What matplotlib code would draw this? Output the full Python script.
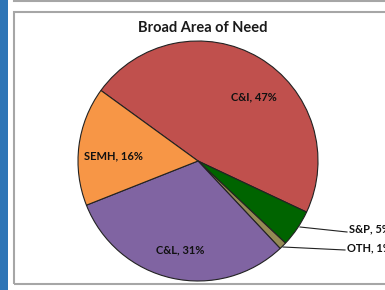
import matplotlib
matplotlib.use("Agg")
import matplotlib.pyplot as plt
import numpy as np
from matplotlib.patches import Rectangle
from matplotlib.lines import Line2D

categories = ["C&I", "S&P", "OTH", "C&L", "SEMH"]
values = [47, 5, 1, 31, 16]
colors = ["#C0504D", "#006400", "#948A54", "#8064A2", "#F79646"]
title = "Broad Area of Need"

plt.rcParams["font.family"] = ["Lato", "DejaVu Sans"]

W, H = 385, 290
fig = plt.figure(figsize=(W / 100, H / 100), dpi=100)
fig.patch.set_facecolor("white")

def fx(x):
    return x / W

def fy(y):
    return 1 - y / H

# decorations: blue side bar and grey frame
fig.patches.append(Rectangle((0, 0), fx(8), 1, transform=fig.transFigure,
                             facecolor="#2E75B6", edgecolor="none", zorder=-2))
fig.patches.append(Rectangle((fx(14), fy(284)), 1, fy(11.5) - fy(284), transform=fig.transFigure,
                             facecolor="none", edgecolor="#A6A6A6", linewidth=1.5, zorder=-2))
fig.lines.append(Line2D([fx(14), 1], [fy(0.5), fy(0.5)], transform=fig.transFigure,
                        color="#A6A6A6", linewidth=1.5, zorder=-2))

# pie axes: centre (198,161), radius 120 px
cx, cy, r = 198, 161, 120
ax = fig.add_axes([fx(cx - r), fy(cy + r), 2 * r / W, 2 * r / H])
ax.set_zorder(1)
ax.patch.set_visible(False)
wedges, _ = ax.pie(values, colors=colors, startangle=144, counterclock=False,
                   radius=1.0,
                   wedgeprops=dict(edgecolor="#222222", linewidth=0.8))
ax.set_xlim(-1, 1)
ax.set_ylim(-1, 1)
ax.set_aspect("equal")
ax.axis("off")

fig.text(fx(203), fy(28), title, ha="center", va="center",
         fontsize=10.5, fontweight="bold", color="#1a1a1a", zorder=3)

labels = [f"{c}, {v}%" for c, v in zip(categories, values)]
lab_kw = dict(fontsize=8, fontweight="bold", color="#111111", zorder=3)

inside = {0: (254, 97), 3: (180, 250), 4: (113, 156)}
for i, (px, py) in inside.items():
    fig.text(fx(px), fy(py), labels[i], ha="center", va="center", **lab_kw)

# outside labels with leader lines
outside = {1: ((300, 227), (347, 232), (349, 229)),
           2: ((283, 247), (345, 250), (347, 248))}
for i, (p0, p1, pt) in outside.items():
    fig.lines.append(Line2D([fx(p0[0]), fx(p1[0])], [fy(p0[1]), fy(p1[1])],
                            transform=fig.transFigure, color="#222222", linewidth=0.8, zorder=3))
    fig.text(fx(pt[0]), fy(pt[1]), labels[i], ha="left", va="center", **lab_kw)

fig.savefig("out.png", dpi=100)
